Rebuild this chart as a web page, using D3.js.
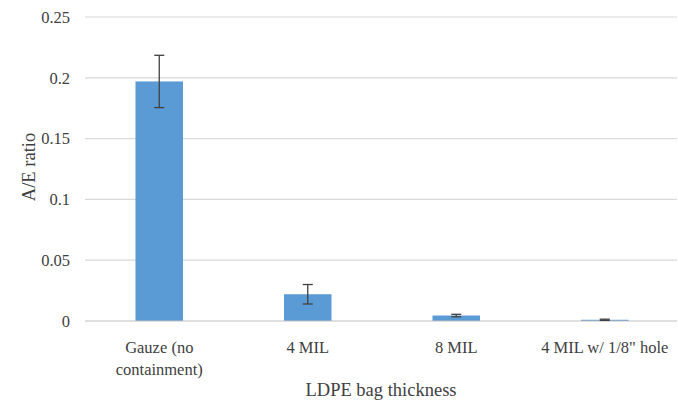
<!DOCTYPE html>
<html>
<head>
<meta charset="utf-8">
<script src="https://cdn.jsdelivr.net/npm/d3@7"></script>
<style>
  html, body { margin: 0; padding: 0; background: #fff; }
  svg { display: block; }
</style>
</head>
<body>
<svg id="chart" width="678" height="402"></svg>
<script>
// Category labels (multi-line labels split by "\n")
const categories = ["Gauze (no\ncontainment)", "4 MIL", "8 MIL", "4 MIL w/ 1/8\" hole"];
// Mean A/E ratio per containment type
const values = [0.197, 0.022, 0.0045, 0.001];
// Error bar half-lengths
const errors = [0.0215, 0.008, 0.001, 0.0005];
// Y axis ticks
const yTicks = [0, 0.05, 0.1, 0.15, 0.2, 0.25];
const yTickLabels = ["0", "0.05", "0.1", "0.15", "0.2", "0.25"];

const FONT = "'Liberation Serif', 'Times New Roman', Tinos, 'DejaVu Serif', serif";
const svg = d3.select("#chart");
const margin = { left: 85, top: 17 };

const x = d3.scaleBand()
  .domain(categories)
  .range([margin.left, 679])
  .paddingInner(0.68)
  .paddingOuter(0.34);

const y = d3.scaleLinear()
  .domain([0, 0.25])
  .range([321, margin.top]);

// Horizontal gridlines
svg.append("g")
  .selectAll("line")
  .data(yTicks.filter(d => d > 0))
  .join("line")
  .attr("x1", margin.left).attr("x2", 677)
  .attr("y1", d => y(d)).attr("y2", d => y(d))
  .attr("stroke", "#d9d9d9").attr("stroke-width", 1.2);

// Y tick labels
const yAxis = d3.axisLeft(y)
  .tickValues(yTicks)
  .tickFormat((d, i) => yTickLabels[i])
  .tickSize(0)
  .tickPadding(15);
const gy = svg.append("g")
  .attr("transform", `translate(${margin.left},0)`)
  .call(yAxis);
gy.attr("font-family", null).attr("font-size", null)
  .style("font-family", FONT).style("font-size", "16.5px");
gy.select(".domain").remove();
gy.selectAll("text").attr("fill", "#404040");

// Bars
svg.append("g")
  .selectAll("rect")
  .data(categories)
  .join("rect")
  .attr("x", d => x(d))
  .attr("width", x.bandwidth())
  .attr("y", (d, i) => y(values[i]))
  .attr("height", (d, i) => y(0) - y(values[i]))
  .attr("fill", "#5b9bd5");

// Baseline (zero axis)
svg.append("line")
  .attr("x1", margin.left).attr("x2", 677)
  .attr("y1", y(0)).attr("y2", y(0))
  .attr("stroke", "#bfbfbf").attr("stroke-width", 1.2);

// Error bars
const eb = svg.append("g")
  .attr("stroke", "#404040")
  .attr("stroke-width", 1.3)
  .selectAll("g")
  .data(categories)
  .join("g");
const cx = d => x(d) + x.bandwidth() / 2;
eb.append("line")
  .attr("x1", cx).attr("x2", cx)
  .attr("y1", (d, i) => y(values[i] + errors[i]))
  .attr("y2", (d, i) => y(values[i] - errors[i]));
[1, -1].forEach(s => {
  eb.append("line")
    .attr("x1", d => cx(d) - 5).attr("x2", d => cx(d) + 5)
    .attr("y1", (d, i) => y(values[i] + s * errors[i]))
    .attr("y2", (d, i) => y(values[i] + s * errors[i]));
});

// X category labels
const xAxis = d3.axisBottom(x).tickSize(0).tickPadding(0).tickFormat("");
const gx = svg.append("g")
  .attr("transform", `translate(0,${y(0)})`)
  .call(xAxis);
gx.attr("font-family", null).attr("font-size", null)
  .style("font-family", FONT).style("font-size", "16.5px");
gx.select(".domain").remove();
gx.selectAll(".tick").each(function(d) {
  const t = d3.select(this).append("text")
    .attr("text-anchor", "middle")
    .attr("fill", "#404040");
  d.split("\n").forEach((line, k) => {
    t.append("tspan").attr("x", 0).attr("y", 32 + k * 22).text(line);
  });
});

// Axis titles
svg.append("text")
  .attr("transform", `translate(35,167) rotate(-90)`)
  .attr("text-anchor", "middle")
  .style("font-family", FONT)
  .style("font-size", "18.5px")
  .attr("fill", "#404040")
  .text("A/E ratio");

svg.append("text")
  .attr("x", 381).attr("y", 396)
  .attr("text-anchor", "middle")
  .style("font-family", FONT)
  .style("font-size", "18.5px")
  .attr("fill", "#404040")
  .text("LDPE bag thickness");
</script>
</body>
</html>
